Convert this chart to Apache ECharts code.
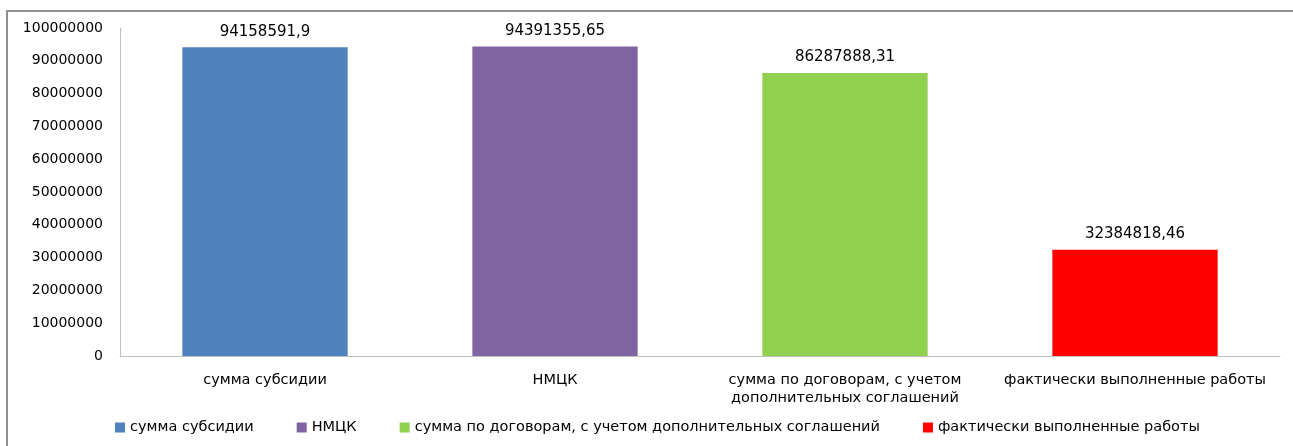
<!DOCTYPE html>
<html>
<head>
<meta charset="utf-8">
<script src="https://cdn.jsdelivr.net/npm/echarts@6/dist/echarts.min.js"></script>
<style>
  html, body { margin: 0; padding: 0; background: #fff; }
  #chart { width: 1293px; height: 446px; }
</style>
</head>
<body>
<div id="chart"></div>
<script>
const categories = [
  'сумма субсидии',
  'НМЦК',
  'сумма по договорам, с учетом\nдополнительных соглашений',
  'фактически выполненные работы'
];
const seriesNames = [
  'сумма субсидии',
  'НМЦК',
  'сумма по договорам, с учетом дополнительных соглашений',
  'фактически выполненные работы'
];
const values = [94158591.9, 94391355.65, 86287888.31, 32384818.46];
const colors = ['#4f81bd', '#8064a2', '#92d050', '#ff0000'];

const font = 'DejaVu Sans, sans-serif';

const chart = echarts.init(document.getElementById('chart'));

// one series per bar so that the legend lists each bar
const series = values.map((v, i) => ({
  name: seriesNames[i],
  type: 'bar',
  stack: 'all',
  barWidth: '57%',
  itemStyle: { color: colors[i] },
  data: values.map((_, j) => (j === i ? v : '-')),
  label: {
    show: true,
    position: 'top',
    distance: 8,
    color: '#000',
    fontFamily: font,
    fontSize: 15,
    formatter: p => String(p.value).replace('.', ',')
  }
}));

chart.setOption({
  animation: false,
  graphic: [{
    type: 'rect',
    shape: { x: 7, y: 11, width: 1300, height: 460 },
    style: { fill: 'none', stroke: '#8e8e8e', lineWidth: 2 }
  }],
  grid: { left: 120, right: 13, top: 28, bottom: 90 },
  legend: {
    bottom: 6,
    left: 110,
    itemWidth: 10,
    itemHeight: 10,
    itemGap: 43,
    icon: 'rect',
    textStyle: { fontFamily: font, fontSize: 14.5, color: '#000' },
    data: seriesNames
  },
  xAxis: {
    type: 'category',
    data: categories,
    axisLine: { lineStyle: { color: '#bfbfbf' } },
    axisTick: { show: false },
    axisLabel: {
      color: '#000',
      fontFamily: font,
      fontSize: 14.5,
      margin: 15,
      lineHeight: 18,
      interval: 0
    }
  },
  yAxis: {
    type: 'value',
    min: 0,
    max: 100000000,
    interval: 10000000,
    axisLine: { show: true, lineStyle: { color: '#bfbfbf' } },
    axisTick: { show: false },
    splitLine: { show: false },
    axisLabel: {
      color: '#000',
      fontFamily: font,
      fontSize: 14,
      margin: 17,
      formatter: v => String(v)
    }
  },
  series: series
});
</script>
</body>
</html>
